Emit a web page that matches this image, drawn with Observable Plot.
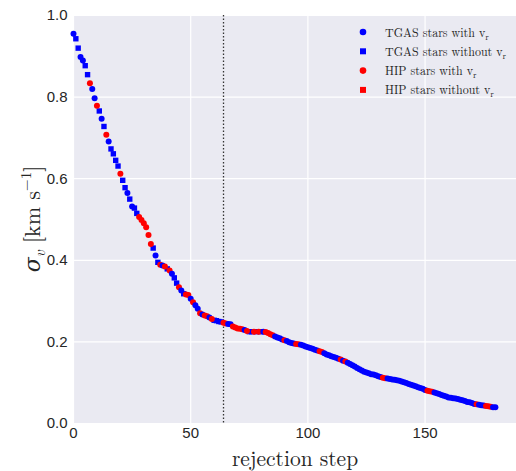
<!DOCTYPE html>
<html>
<head>
<meta charset="utf-8">
<script src="https://cdn.jsdelivr.net/npm/d3@7"></script>
<script src="https://cdn.jsdelivr.net/npm/@observablehq/plot@0.6"></script>
<style>
  body { margin: 0; background: #fff; }
</style>
</head>
<body>
<div id="chart"></div>
<script>
// sigma_v at each rejection step (km/s)
const sigmaV = [
  0.955,0.943,0.920,0.898,0.890,0.877,0.855,0.834,0.820,0.797,
  0.779,0.766,0.747,0.728,0.708,0.691,0.673,0.661,0.645,0.631,
  0.612,0.596,0.578,0.565,0.550,0.532,0.528,0.515,0.506,0.499,
  0.491,0.481,0.462,0.440,0.430,0.412,0.395,0.389,0.387,0.385,
  0.379,0.375,0.367,0.357,0.344,0.334,0.326,0.318,0.316,0.315,
  0.306,0.297,0.290,0.281,0.270,0.267,0.265,0.263,0.260,0.256,
  0.253,0.252,0.250,0.249,0.247,0.245,0.244,0.243,0.238,0.235,
  0.233,0.232,0.231,0.229,0.227,0.225,0.225,0.225,0.225,0.225,
  0.225,0.225,0.224,0.222,0.219,0.216,0.213,0.211,0.209,0.206,
  0.204,0.202,0.199,0.197,0.196,0.195,0.194,0.193,0.191,0.189,
  0.187,0.185,0.183,0.181,0.179,0.177,0.175,0.172,0.169,0.167,
  0.165,0.163,0.161,0.159,0.157,0.154,0.152,0.149,0.146,0.143,
  0.140,0.136,0.133,0.130,0.127,0.125,0.123,0.121,0.120,0.118,
  0.116,0.114,0.112,0.111,0.110,0.109,0.108,0.107,0.106,0.105,
  0.103,0.101,0.099,0.097,0.095,0.093,0.091,0.089,0.087,0.085,
  0.082,0.080,0.079,0.078,0.076,0.074,0.072,0.070,0.068,0.066,
  0.064,0.063,0.062,0.061,0.060,0.058,0.057,0.055,0.053,0.052,
  0.050,0.048,0.047,0.046,0.045,0.044,0.043,0.042,0.041,0.040,
  0.040
];
// Which star was rejected: TC = TGAS with v_r, TS = TGAS without v_r, HC = HIP with v_r, HS = HIP without v_r
const markerType = [
  "TC","TS","TS","TC","TC","TS","TS","HC","TC","TC",
  "HC","TS","TC","TS","HC","TC","TS","TS","TS","TS",
  "HC","TS","TS","TC","TS","TC","TS","TS","HC","HC",
  "HC","HC","HC","HC","TS","TC","TS","HC","TC","HC",
  "TS","HC","TC","TS","TS","HC","TC","TS","HC","HC",
  "TC","HC","TC","TC","HC","TC","HC","HC","TC","HC",
  "TS","TS","TS","TS","HC","HC","TC","TC","HC","HC",
  "HC","HC","HC","TC","HC","TS","TS","HC","TS","HC",
  "TS","TC","HC","HC","HC","HC","TC","TC","TC","TC",
  "HC","TC","TC","TC","TC","HC","HC","TC","TC","TC",
  "TC","TC","TC","TC","TC","HC","HC","TC","TC","TC",
  "TC","TC","TC","TC","HC","TC","HC","TC","TC","TC",
  "TC","TC","TC","TC","TC","TC","TC","TC","TC","TC",
  "TC","TC","HC","HC","TC","TC","TC","TC","TC","TC",
  "TC","TC","TC","TC","TC","TC","TC","TC","TC","TC",
  "TC","HC","HC","HC","TC","TC","TC","TC","TC","TC",
  "TC","TC","TC","TC","TC","TC","TC","TC","TC","TC",
  "TC","TC","HC","TC","TC","TC","HC","HC","HC","TC",
  "TC"
];
const chosenStep = 64;
const xTicks = [0, 50, 100, 150];
const yTicks = [0, 0.2, 0.4, 0.6, 0.8, 1.0];
const legendCodes = ["TC", "TS", "HC", "HS"];
const legendLabels = ["TGAS stars with v", "TGAS stars without v", "HIP stars with v", "HIP stars without v"];

const colorOf = {TC: "#0000ff", TS: "#0000ff", HC: "#ff0000", HS: "#ff0000"};
const symbolOf = {TC: "circle", TS: "square", HC: "circle", HS: "square"};

const rows = sigmaV.map((v, i) => ({step: i, sigma: v, type: markerType[i]}));

const svg = Plot.plot({
  width: 516,
  height: 471,
  marginLeft: 73,
  marginRight: 0,
  marginTop: 15,
  marginBottom: 48,
  style: {fontFamily: "'Liberation Sans', Arial, sans-serif", fontSize: "15px", color: "#262626", background: "#fff"},
  x: {domain: [0, 189]},
  y: {domain: [0, 1]},
  marks: [
    Plot.frame({fill: "#eaeaf2", stroke: null}),
    Plot.gridX(xTicks, {stroke: "#fff", strokeOpacity: 1, strokeWidth: 1.2}),
    Plot.gridY(yTicks, {stroke: "#fff", strokeOpacity: 1, strokeWidth: 1.2}),
    Plot.ruleX([chosenStep], {stroke: "#333", strokeDasharray: "1.5,2", strokeWidth: 1.3}),
    Plot.dot(rows, {
      x: "step", y: "sigma",
      symbol: d => symbolOf[d.type],
      fill: d => colorOf[d.type],
      r: d => symbolOf[d.type] === "square" ? 3.7 : 3.6,
      stroke: null
    }),
    Plot.axisX({ticks: xTicks, tickSize: 0, tickPadding: 4, fontSize: 15, label: null}),
    Plot.axisY({ticks: yTicks, tickSize: 0, tickPadding: 6, tickFormat: d3.format(".1f"), fontSize: 15, label: null})
  ]
});

const s = d3.select(svg);
const serif = "'Latin Modern Roman', 'DejaVu Serif', 'Liberation Serif', serif";

// x-axis label
s.append("text")
  .attr("x", 295).attr("y", 466)
  .attr("text-anchor", "middle")
  .attr("font-family", serif).attr("font-size", 21.5).attr("fill", "#262626")
  .text("rejection step");

// y-axis label
const yl = s.append("text")
  .attr("transform", "translate(40,219) rotate(-90)")
  .attr("text-anchor", "middle")
  .attr("font-family", serif).attr("font-size", 22).attr("fill", "#262626");
yl.append("tspan").attr("font-style", "italic").text("σ");
yl.append("tspan").attr("font-style", "italic").attr("font-size", 15).attr("dy", 5).text("v");
yl.append("tspan").attr("dy", -5).text(" [km s");
yl.append("tspan").attr("font-size", 15).attr("dy", -9).text("−1");
yl.append("tspan").attr("dy", 9).text("]");

// legend
const lg = s.append("g").attr("text-anchor", "start");
legendCodes.forEach((c, i) => {
  const y = 32 + i * 19.3;
  const sym = (symbolOf[c] === "square" ? d3.symbolSquare : d3.symbolCircle);
  lg.append("path")
    .attr("d", d3.symbol(sym, symbolOf[c] === "square" ? 36 : 34)())
    .attr("transform", `translate(363,${y})`)
    .attr("fill", colorOf[c]);
  const t = lg.append("text")
    .attr("x", 385).attr("y", y + 4.5)
    .attr("text-anchor", "start")
    .attr("font-family", serif).attr("font-size", 12).attr("fill", "#262626");
  t.append("tspan").text(legendLabels[i]);
  t.append("tspan").attr("font-size", 9).attr("dy", 3).text("r");
});

document.getElementById("chart").appendChild(svg);
</script>
</body>
</html>
